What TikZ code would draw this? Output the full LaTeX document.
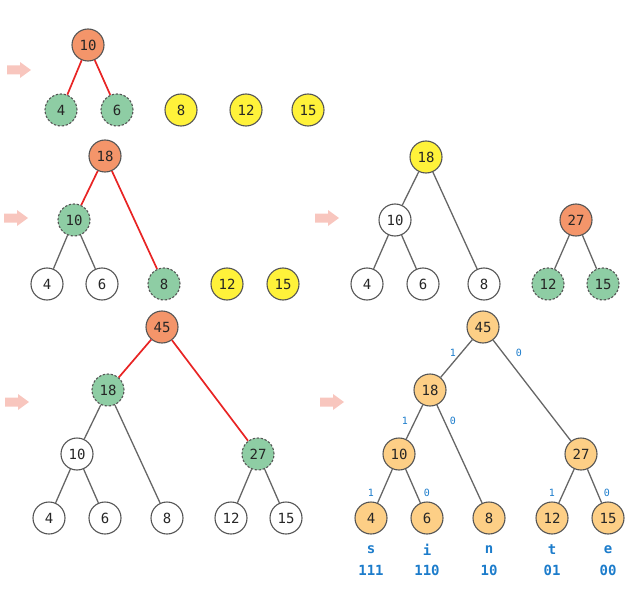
\documentclass[tikz,border=0pt]{standalone}
\usepackage{fontspec}
\newfontfamily\monof{DejaVu Sans Mono}
\definecolor{orC}{HTML}{F4956A}
\definecolor{grC}{HTML}{8ECDA4}
\definecolor{yeC}{HTML}{FFF23A}
\definecolor{loC}{HTML}{FDCF86}
\definecolor{rdC}{HTML}{E82424}
\definecolor{bdC}{HTML}{555555}
\definecolor{edC}{HTML}{666666}
\definecolor{blC}{HTML}{1C7CCB}
\definecolor{arC}{HTML}{F8C6BE}
\tikzset{
  nd/.style={circle, draw=bdC, line width=1.1pt, minimum size=32pt, inner sep=0pt,
    font=\monof\fontsize{14}{16}\selectfont, text=black!85},
  orn/.style={nd, fill=orC},
  grn/.style={nd, fill=grC, dash pattern=on 2.4pt off 1.6pt},
  yel/.style={nd, fill=yeC},
  wht/.style={nd, fill=white},
  lor/.style={nd, fill=loC},
  redE/.style={draw=rdC, line width=1.7pt},
  grayE/.style={draw=edC, line width=1.3pt},
  bitlab/.style={font=\monof\fontsize{10}{11}\selectfont, text=blC},
  codelab/.style={font=\monof\bfseries\fontsize{14}{16}\selectfont, text=blC, inner sep=0pt},
  stepArrow/.style={fill=arC, draw=none}
}
\newcommand{\pinkarrow}[2]{%
  \fill[stepArrow] (#1,#2-4.5) -- (#1+13,#2-4.5) -- (#1+13,#2-8) -- (#1+24,#2) -- (#1+13,#2+8) -- (#1+13,#2+4.5) -- (#1,#2+4.5) -- cycle;}
\begin{document}
\begin{tikzpicture}[x=1pt,y=-1pt]
\useasboundingbox (0,0) rectangle (642,596);
% arrows
\pinkarrow{7}{70}
\pinkarrow{4}{218}
\pinkarrow{315}{218}
\pinkarrow{5}{402}
\pinkarrow{320}{402}

% panel 1
\node[orn] (a10) at (88,45) {10};
\node[grn] (a4) at (61,110) {4};
\node[grn] (a6) at (117,110) {6};
\node[yel] (a8) at (181,110) {8};
\node[yel] (a12) at (246,110) {12};
\node[yel] (a15) at (308,110) {15};
\draw[redE] (a10) -- (a4);
\draw[redE] (a10) -- (a6);

% panel 2
\node[orn] (b18) at (105,156) {18};
\node[grn] (b10) at (74,220) {10};
\node[wht] (b4) at (47,284) {4};
\node[wht] (b6) at (102,284) {6};
\node[grn] (b8) at (164,284) {8};
\node[yel] (b12) at (227,284) {12};
\node[yel] (b15) at (283,284) {15};
\draw[redE] (b18) -- (b10);
\draw[redE] (b18) -- (b8);
\draw[grayE] (b10) -- (b4);
\draw[grayE] (b10) -- (b6);

% panel 3
\node[yel] (c18) at (426,157) {18};
\node[wht] (c10) at (395,220) {10};
\node[wht] (c4) at (367,284) {4};
\node[wht] (c6) at (423,284) {6};
\node[wht] (c8) at (484,284) {8};
\node[orn] (c27) at (576,220) {27};
\node[grn] (c12) at (548,284) {12};
\node[grn] (c15) at (603,284) {15};
\draw[grayE] (c18) -- (c10);
\draw[grayE] (c18) -- (c8);
\draw[grayE] (c10) -- (c4);
\draw[grayE] (c10) -- (c6);
\draw[grayE] (c27) -- (c12);
\draw[grayE] (c27) -- (c15);

% panel 4
\node[orn] (d45) at (162,327) {45};
\node[grn] (d18) at (108,390) {18};
\node[wht] (d10) at (77,454) {10};
\node[grn] (d27) at (258,454) {27};
\node[wht] (d4) at (49,518) {4};
\node[wht] (d6) at (105,518) {6};
\node[wht] (d8) at (167,518) {8};
\node[wht] (d12) at (231,518) {12};
\node[wht] (d15) at (286,518) {15};
\draw[redE] (d45) -- (d18);
\draw[redE] (d45) -- (d27);
\draw[grayE] (d18) -- (d10);
\draw[grayE] (d18) -- (d8);
\draw[grayE] (d10) -- (d4);
\draw[grayE] (d10) -- (d6);
\draw[grayE] (d27) -- (d12);
\draw[grayE] (d27) -- (d15);

% panel 5
\node[lor] (e45) at (483,327) {45};
\node[lor] (e18) at (430,390) {18};
\node[lor] (e10) at (399,454) {10};
\node[lor] (e27) at (581,454) {27};
\node[lor] (e4) at (371,518) {4};
\node[lor] (e6) at (427,518) {6};
\node[lor] (e8) at (489,518) {8};
\node[lor] (e12) at (552,518) {12};
\node[lor] (e15) at (608,518) {15};
\draw[grayE] (e45) -- (e18);
\draw[grayE] (e45) -- (e27);
\draw[grayE] (e18) -- (e10);
\draw[grayE] (e18) -- (e8);
\draw[grayE] (e10) -- (e4);
\draw[grayE] (e10) -- (e6);
\draw[grayE] (e27) -- (e12);
\draw[grayE] (e27) -- (e15);
\node[bitlab] (l1) at (453,353) {1};
\node[bitlab] (l2) at (519,353) {0};
\node[bitlab] (l3) at (405,421) {1};
\node[bitlab] (l4) at (453,421) {0};
\node[bitlab] (l5) at (371,493) {1};
\node[bitlab] (l6) at (427,493) {0};
\node[bitlab] (l7) at (552,493) {1};
\node[bitlab] (l8) at (607,493) {0};
\node[codelab] (s1) at (371,550) {s};
\node[codelab] (s2) at (371,570) {111};
\node[codelab] (i1) at (427,550) {i};
\node[codelab] (i2) at (427,570) {110};
\node[codelab] (n1) at (489,550) {n};
\node[codelab] (n2) at (489,570) {10};
\node[codelab] (t1) at (552,550) {t};
\node[codelab] (t2) at (552,570) {01};
\node[codelab] (x1) at (608,550) {e};
\node[codelab] (x2) at (608,570) {00};
\end{tikzpicture}
\end{document}
